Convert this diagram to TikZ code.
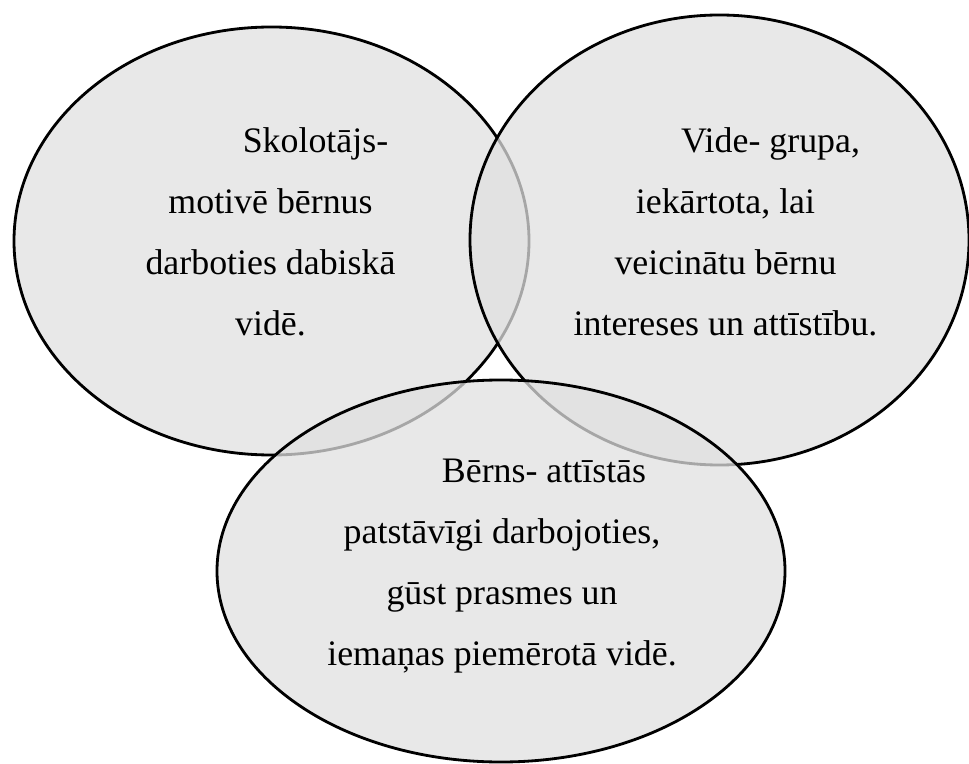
\documentclass[tikz,border=0pt]{standalone}
\usepackage{fontspec}
\setmainfont{Liberation Serif}
\usetikzlibrary{shapes.geometric}

\tikzset{
  sfera/.style={ellipse, draw=black, line width=1.6pt, fill=black!12,
    fill opacity=0.74, draw opacity=1, inner sep=0pt},
  teksts/.style={align=center, text opacity=1,
    font=\fontsize{20.4}{34.7}\selectfont}
}

\begin{document}
\begin{tikzpicture}
   \useasboundingbox (0,0) rectangle (19.38,-15.28);
   \node[sfera, minimum width=10.30cm, minimum height=8.56cm] (skolotajs) at (5.43,-4.82) {};
   \node[sfera, minimum width=9.98cm, minimum height=9.00cm] (vide) at (14.39,-4.80) {};
   \node[sfera, minimum width=11.36cm, minimum height=7.64cm] (berns) at (10.02,-11.42) {};
   % teksti
   \node[teksts] (tSkol) at ([shift={(-0.02,0.18)}]skolotajs.center)
      {\hspace*{1.8cm}Skolotājs-\\ motivē bērnus\\ darboties dabiskā\\ vidē.};
   \node[teksts] (tVide) at ([shift={(0.12,0.16)}]vide.center)
      {\hspace*{1.8cm}Vide- grupa,\\ iekārtota, lai\\ veicinātu bērnu\\ intereses un attīstību.};
   \node[teksts] (tBerns) at ([shift={(0.02,0.10)}]berns.center)
      {\hspace*{1.68cm}Bērns- attīstās\\ patstāvīgi darbojoties,\\ gūst prasmes un\\ iemaņas piemērotā vidē.};
\end{tikzpicture}
\end{document}
